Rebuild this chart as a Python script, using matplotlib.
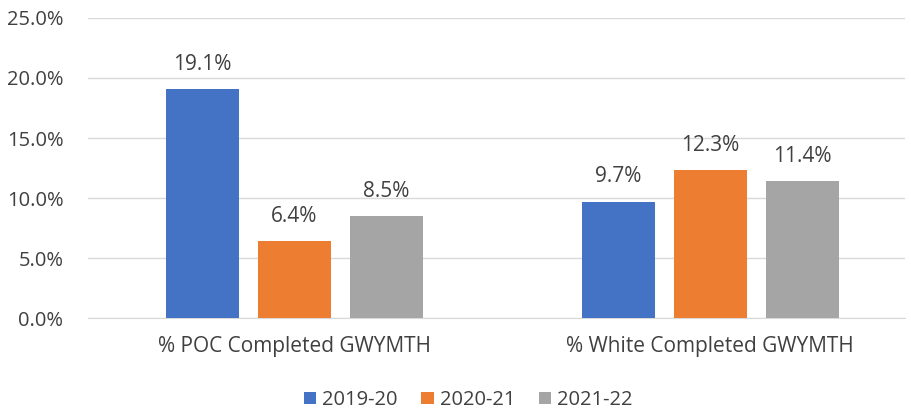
import matplotlib.pyplot as plt
import numpy as np

categories = ["% POC Completed GWYMTH", "% White Completed GWYMTH"]
years = ["2019-20", "2020-21", "2021-22"]
values = {
    "2019-20": [19.1, 9.7],
    "2020-21": [6.4, 12.3],
    "2021-22": [8.5, 11.4],
}
colors = ["#4472C4", "#ED7D31", "#A5A5A5"]

plt.rcParams["font.family"] = ["Open Sans", "DejaVu Sans"]
text_color = "#404040"

fig = plt.figure(figsize=(9.11, 4.17), dpi=100)
ax = fig.add_axes([0.097, 0.237, 0.896, 0.72])

x = np.arange(len(categories))
width = 0.1755
step = 0.221

for i, year in enumerate(years):
    pos = x + (i - 1) * step
    bars = ax.bar(pos, values[year], width, color=colors[i], label=year, zorder=3)
    for b, v in zip(bars, values[year]):
        ax.text(b.get_x() + b.get_width() / 2, v + 1.6, f"{v:.1f}%",
                ha="center", va="baseline", fontsize=15, color=text_color)

ax.set_xlim(-0.496, 1.4675)
ax.set_ylim(0, 25)
ax.set_yticks(np.arange(0, 26, 5))
ax.set_yticklabels([f"{t:.1f}%" for t in np.arange(0, 26, 5)])
ax.set_xticks(x)
ax.set_xticklabels(categories)
ax.tick_params(axis="both", length=0, labelsize=14.5, colors=text_color)
ax.tick_params(axis="x", labelsize=15, pad=13)
ax.tick_params(axis="y", pad=18)

ax.grid(axis="y", color="#D9D9D9", linewidth=1, zorder=0)
for s in ["top", "right", "left"]:
    ax.spines[s].set_visible(False)
ax.spines["bottom"].set_color("#D9D9D9")

leg = fig.legend(loc="lower center", bbox_to_anchor=(0.514, -0.027), ncol=3,
                 frameon=False, fontsize=14.5, handlelength=0.6, handleheight=0.6,
                 columnspacing=1.2, handletextpad=0.3)
for t in leg.get_texts():
    t.set_color(text_color)

fig.savefig("out.png", dpi=100)
